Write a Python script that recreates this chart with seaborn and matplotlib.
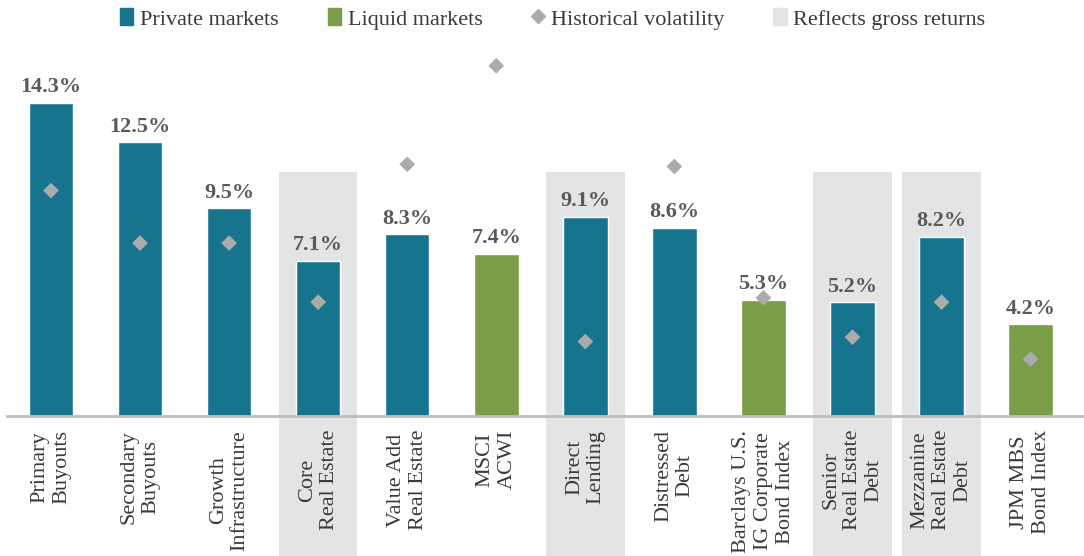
import numpy as np
import pandas as pd
import seaborn as sns
import matplotlib.pyplot as plt
from matplotlib.patches import Patch
from matplotlib.lines import Line2D

categories = ["Primary\nBuyouts", "Secondary\nBuyouts", "Growth\nInfrastructure",
              "Core\nReal Estate", "Value Add\nReal Estate", "MSCI\nACWI",
              "Direct\nLending", "Distressed\nDebt", "Barclays U.S.\nIG Corporate\nBond Index",
              "Senior\nReal Estate\nDebt", "Mezzanine\nReal Estate\nDebt", "JPM MBS\nBond Index"]
returns = [14.3, 12.5, 9.5, 7.1, 8.3, 7.4, 9.1, 8.6, 5.3, 5.2, 8.2, 4.2]
volatility = [10.3, 7.9, 7.9, 5.2, 11.5, 16.0, 3.4, 11.4, 5.4, 3.6, 5.2, 2.6]
market_type = ["Private markets", "Private markets", "Private markets", "Private markets",
               "Private markets", "Liquid markets", "Private markets", "Private markets",
               "Liquid markets", "Private markets", "Private markets", "Liquid markets"]
gross_returns = ["Core\nReal Estate", "Direct\nLending",
                 "Senior\nReal Estate\nDebt", "Mezzanine\nReal Estate\nDebt"]

TEAL = "#17748F"
GREEN = "#7A9E48"
DIAMOND = "#ABABAB"
SHADE = "#E3E4E6"
SHADE_TOP = 11.15

df = pd.DataFrame({"cat": categories, "ret": returns, "vol": volatility, "type": market_type})

sns.set_style("white")
plt.rcParams["font.family"] = ["Liberation Serif", "DejaVu Serif"]

fig = plt.figure(figsize=(10.84, 5.56), dpi=100)
ax = fig.add_axes([6.5 / 1084, 140 / 556, 1077.5 / 1084, 394 / 556])
ax.set_ylim(0, 18)

# grey background for categories that reflect gross returns
for c in gross_returns:
    i = categories.index(c)
    ax.axvspan(i - 0.44, i + 0.44, ymin=-140 / 394, ymax=SHADE_TOP / 18,
               color=SHADE, zorder=0, clip_on=False, lw=0)

sns.barplot(data=df, x="cat", y="ret", hue="type",
            palette={"Private markets": TEAL, "Liquid markets": GREEN},
            width=0.5, dodge=False, legend=False, ax=ax, zorder=2, saturation=1)

sns.scatterplot(data=df, x="cat", y="vol", marker="D", s=64, color=DIAMOND,
                edgecolor="none", ax=ax, zorder=3, legend=False)

for i, v in enumerate(returns):
    ax.annotate(f"{v:.1f}%", (i, v), xytext=(0, 4), textcoords="offset points",
                ha="center", va="bottom", fontsize=16, fontweight="bold", color="#5A5A5A")

ax.set_xlim(-0.5, 11.6)
ax.set_xlabel("")
ax.set_ylabel("")
ax.set_yticks([])
ax.tick_params(axis="x", length=0, pad=10)
ax.set_xticks(range(len(categories)))
ax.set_xticklabels(categories, rotation=90, fontsize=16, color="#3A3A3A",
                   linespacing=1.2, multialignment="center")
for s in ["top", "right", "left"]:
    ax.spines[s].set_visible(False)
ax.spines["bottom"].set_color("#BDBDBD")
ax.spines["bottom"].set_linewidth(2)

handles = [Patch(color=TEAL), Patch(color=GREEN),
           Line2D([], [], marker="D", color=DIAMOND, ls="none", markersize=7),
           Patch(color=SHADE)]
labels = ["Private markets", "Liquid markets", "Historical volatility", "Reflects gross returns"]
fig.legend(handles, labels, loc="center", bbox_to_anchor=(0.51, 1 - 19 / 556), ncol=4,
           frameon=False, fontsize=16, handlelength=0.6, handleheight=0.8,
           handletextpad=0.3, columnspacing=2.2, labelcolor="#3A3A3A")

fig.savefig("out.png", dpi=100)
